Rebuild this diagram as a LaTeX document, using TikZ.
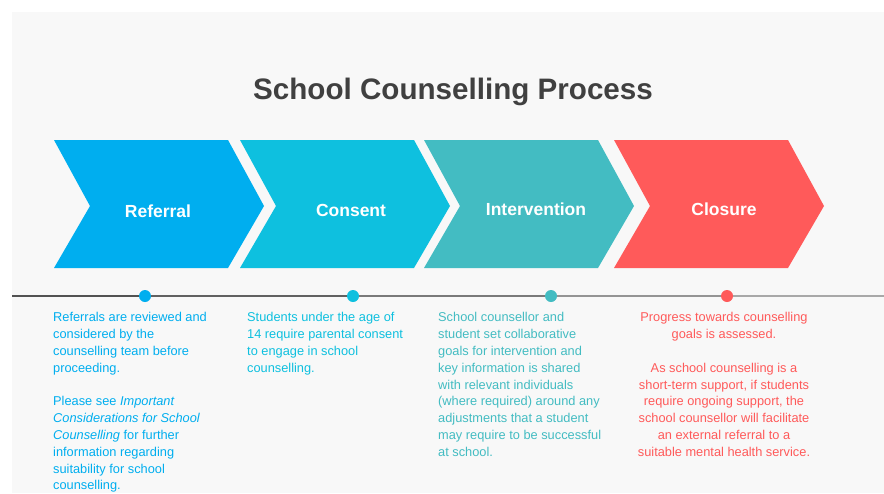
\documentclass[tikz,border=0pt]{standalone}
\usepackage{fontspec}
\setmainfont{Liberation Sans}
\usepackage{xcolor}
\usetikzlibrary{shapes, positioning}

\definecolor{refblue}{HTML}{00AEEF}
\definecolor{conscyan}{HTML}{0EC0DF}
\definecolor{intteal}{HTML}{43BCC2}
\definecolor{closred}{HTML}{FF5A5A}
\definecolor{titlegray}{HTML}{404040}
\definecolor{panelgray}{HTML}{F8F8F8}

\tikzset{
  steplabel/.style={text=white, inner sep=0pt, font=\bfseries\fontsize{17.5}{20}\selectfont},
  stepdot/.style={circle, inner sep=0pt, minimum size=12pt},
  steptext/.style={inner sep=0pt, font=\fontsize{12.8}{16.8}\selectfont},
}

\begin{document}
\begin{tikzpicture}[x=1pt, y=-1pt]

% Marco y fondo
\useasboundingbox (0,0) rectangle (884,493);
\fill[panelgray] (12,12) rectangle (884,493);  % Panel gris claro

% Titulo
\node[text=titlegray, font=\bfseries\fontsize{29.6}{34}\selectfont] (title) at (453,92) {School Counselling Process};

% Flechas (chevrons) de cada etapa
\fill[refblue] (54,140) -- (228,140) -- (264,206) -- (228,268) -- (54,268) -- (90,206) -- cycle;   % Referral
\fill[conscyan] (240,140) -- (414,140) -- (450,206) -- (414,268) -- (240,268) -- (276,206) -- cycle;   % Consent
\fill[intteal] (424,140) -- (598,140) -- (634,206) -- (598,268) -- (424,268) -- (460,206) -- cycle;   % Intervention
\fill[closred] (614,140) -- (788,140) -- (824,206) -- (788,268) -- (614,268) -- (650,206) -- cycle;   % Closure

% Texto dentro de las flechas
\node[steplabel] (referral) at (158,211) {Referral};
\node[steplabel] (consent) at (351,210) {Consent};
\node[steplabel] (intervention) at (536,209) {Intervention};
\node[steplabel] (closure) at (724,209) {Closure};

% Linea de tiempo con puntos
\coordinate (tl) at (12,296);
\coordinate (tr) at (884,296);
\node[stepdot, fill=refblue] (dotref) at (145,296) {};
\node[stepdot, fill=conscyan] (dotcons) at (353,296) {};
\node[stepdot, fill=intteal] (dotint) at (551,296) {};
\node[stepdot, fill=closred] (dotclos) at (727,296) {};
\draw[line width=1.4pt, black!68] (tl) -- (dotref);
\draw[line width=1.4pt, black!62] (dotref) -- (dotcons);
\draw[line width=1.4pt, black!52] (dotcons) -- (dotint);
\draw[line width=1.4pt, black!42] (dotint) -- (dotclos);
\draw[line width=1.4pt, black!34] (dotclos) -- (tr);

% Descripcion de cada etapa
\node[steptext, text=refblue, anchor=north west, align=left] (reftext) at (53,312.5) {Referrals are reviewed and\\considered by the\\counselling team before\\proceeding.\\[16.8pt]Please see \textit{Important}\\\textit{Considerations for School}\\\textit{Counselling} for further\\information regarding\\suitability for school\\counselling.};
\node[steptext, text=conscyan, anchor=north west, align=left] (constext) at (247,312.5) {Students under the age of\\14 require parental consent\\to engage in school\\counselling.};
\node[steptext, text=intteal, anchor=north west, align=left] (inttext) at (438,312.5) {School counsellor and\\student set collaborative\\goals for intervention and\\key information is shared\\with relevant individuals\\(where required) around any\\adjustments that a student\\may require to be successful\\at school.};
\node[steptext, text=closred, anchor=north, align=center] (clostext) at (724,312.5) {Progress towards counselling\\goals is assessed.\\[16.8pt]As school counselling is a\\short-term support, if students\\require ongoing support, the\\school counsellor will facilitate\\an external referral to a\\suitable mental health service.};

\end{tikzpicture}
\end{document}
